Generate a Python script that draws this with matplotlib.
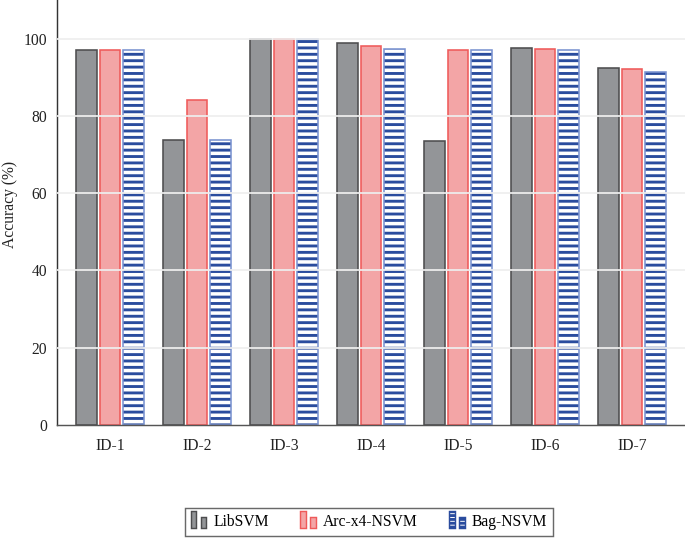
import matplotlib
matplotlib.use("Agg")
import matplotlib.pyplot as plt
import numpy as np
from matplotlib.patches import Rectangle
from matplotlib.legend_handler import HandlerBase

categories = ["ID-1", "ID-2", "ID-3", "ID-4", "ID-5", "ID-6", "ID-7"]
libsvm = [97.0, 73.7, 99.9, 98.8, 73.5, 97.7, 92.4]
arc_x4 = [97.0, 84.2, 99.9, 98.1, 97.1, 97.2, 92.1]
bag_nsvm = [97.0, 73.7, 99.8, 97.3, 97.0, 97.1, 91.4]
series_names = ["LibSVM", "Arc-x4-NSVM", "Bag-NSVM"]
yticks = [0, 20, 40, 60, 80, 100]

DPI = 115
plt.rcParams['font.family'] = ['Liberation Serif', 'DejaVu Serif']
plt.rcParams['hatch.linewidth'] = 1.8
plt.rcParams['hatch.color'] = '#2a4c9e'

fig = plt.figure(figsize=(685 / DPI, 538 / DPI), dpi=DPI)
ax = fig.add_axes([57 / 685, 1 - 425 / 538, 1 - 57 / 685, 425 / 538])

x = np.arange(len(categories))
w = 0.24
off = 0.27
gray_fc, gray_ec = '#939598', '#4d4d4f'
pink_fc, pink_ec = '#f3a5a6', '#ef5a5a'
blue_hc, blue_ec = '#2a4c9e', '#7a92d0'

ax.bar(x - off, libsvm, w, color=gray_fc, edgecolor=gray_ec, linewidth=1.0, zorder=2)
ax.bar(x, arc_x4, w, color=pink_fc, edgecolor=pink_ec, linewidth=1.0, zorder=2)
ax.bar(x + off, bag_nsvm, w, color='white', edgecolor=blue_hc, hatch='---', linewidth=0, zorder=2)
ax.bar(x + off, bag_nsvm, w, color='none', edgecolor=blue_ec, linewidth=1.0, zorder=2.5)

for yv in yticks[1:]:
    ax.axhline(yv, color='#eeeeee', linewidth=1.1, zorder=3)

ax.set_xlim(-0.61, len(categories) - 1 + 0.61)
ax.set_ylim(0, 110)
ax.set_xticks(x)
ax.set_xticklabels(categories)
ax.set_yticks(yticks)
ax.tick_params(axis='both', length=0, labelsize=9.8, colors='#222222')
ax.tick_params(axis='x', pad=8)
ax.tick_params(axis='y', pad=6)
ax.set_ylabel("Accuracy (%)", fontsize=9.8, color='#222222')
ax.yaxis.set_label_coords(-0.062, 0.52)

for s in ['top', 'right']:
    ax.spines[s].set_visible(False)
ax.spines['left'].set_color('#333333')
ax.spines['bottom'].set_color('#555555')
ax.spines['left'].set_linewidth(0.9)
ax.spines['bottom'].set_linewidth(0.9)


class TwoRectHandler(HandlerBase):
    def __init__(self, fc, ec, hatch=None):
        super().__init__()
        self.fc, self.ec, self.hatch = fc, ec, hatch

    def create_artists(self, legend, orig_handle, xdescent, ydescent,
                       width, height, fontsize, trans):
        rw = width * 0.36
        h1 = height * 1.5
        h2 = height * 1.0
        y0 = -ydescent - height * 0.15
        r1 = Rectangle((-xdescent, y0), rw, h1, fc=self.fc, ec=self.ec,
                       lw=0.9, hatch=self.hatch, transform=trans)
        r2 = Rectangle((-xdescent + width - rw, y0), rw, h2, fc=self.fc,
                       ec=self.ec, lw=0.9, hatch=self.hatch, transform=trans)
        return [r1, r2]


hg = Rectangle((0, 0), 1, 1)
hp = Rectangle((0, 0), 1, 1)
hb = Rectangle((0, 0), 1, 1)
leg = fig.legend([hg, hp, hb], series_names,
                 handler_map={hg: TwoRectHandler(gray_fc, gray_ec),
                              hp: TwoRectHandler(pink_fc, pink_ec),
                              hb: TwoRectHandler('white', blue_hc, '-----')},
                 loc='center', bbox_to_anchor=(369 / 685, 1 - 522 / 538),
                 ncol=3, fontsize=9.8, frameon=True, fancybox=False,
                 edgecolor='#444444', handlelength=1.0, handleheight=0.7,
                 handletextpad=0.45, columnspacing=2.0, borderpad=0.4)
leg.get_frame().set_linewidth(0.9)

fig.savefig("out.png", dpi=DPI)
